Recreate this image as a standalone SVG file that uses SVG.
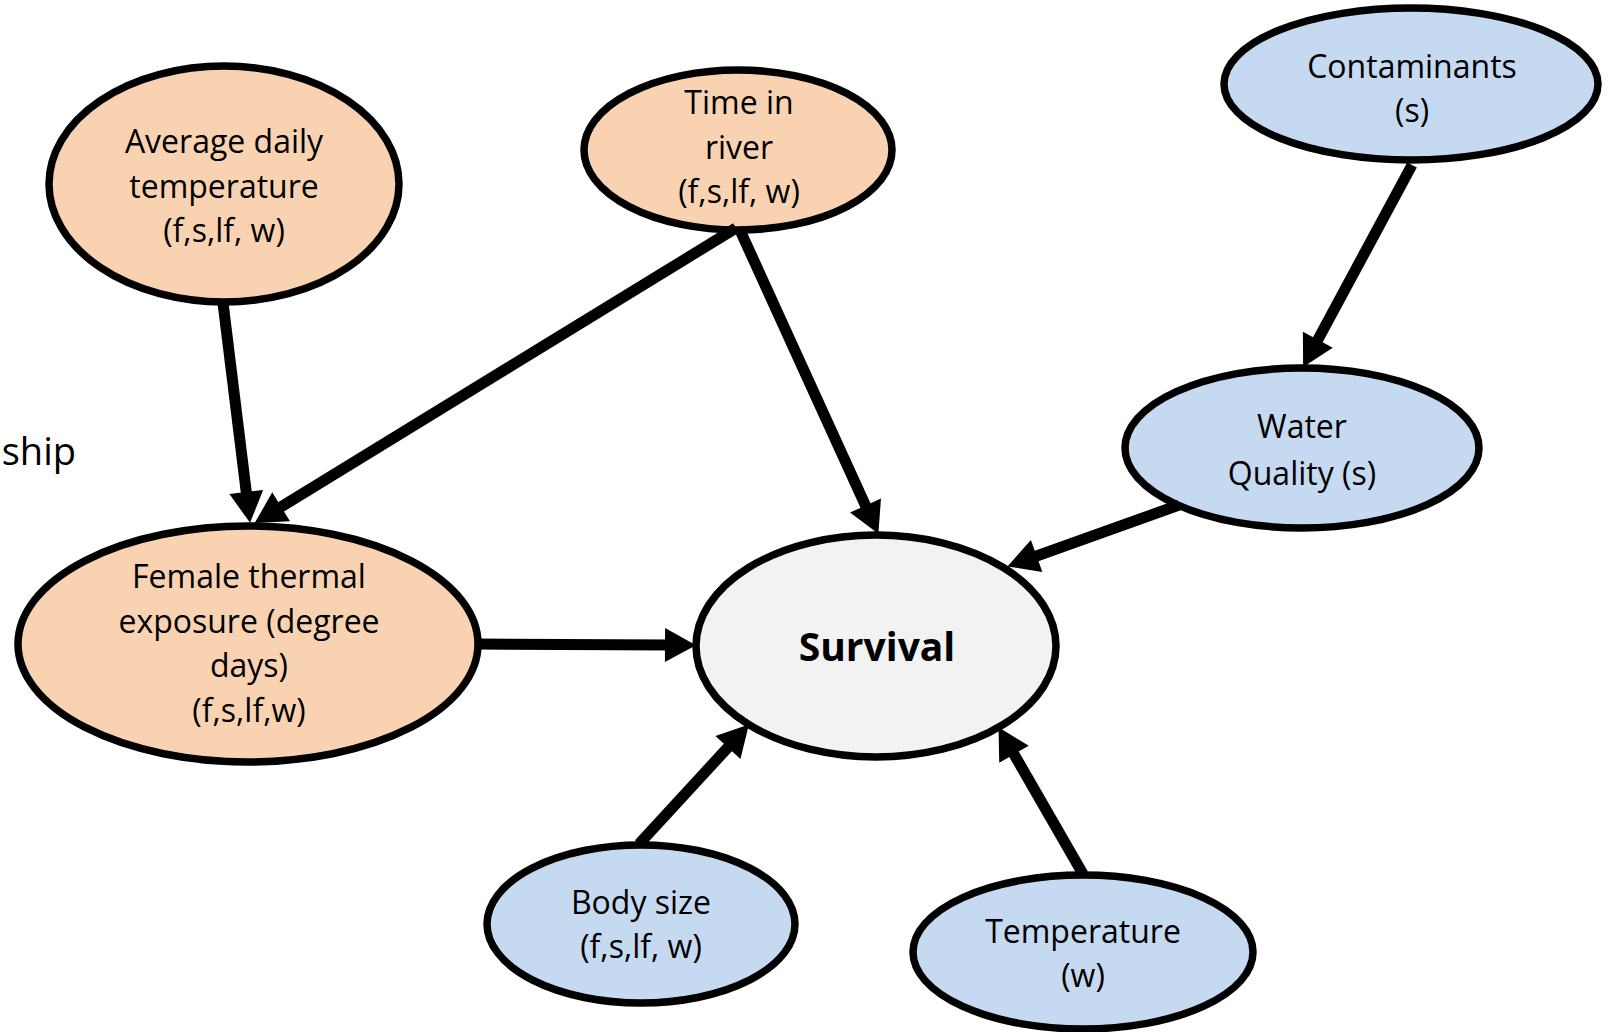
<svg xmlns="http://www.w3.org/2000/svg" width="1610" height="1032" viewBox="0 0 1610 1032">
  <style>
    .node ellipse { stroke: #000; stroke-width: 7.5; }
    .warm ellipse { fill: #F9D3B1; }
    .cool ellipse { fill: #C5D9F1; }
    .core ellipse { fill: #F2F2F2; }
    text { font-family: "Open Sans", Lato, sans-serif; font-size: 32px; fill: #000; text-anchor: middle; }
    .title { font-size: 39px; font-weight: bold; }
    .edge { stroke: #000; stroke-width: 11; fill: none; marker-end: url(#head); }
  </style>
  <defs>
    <marker id="head" markerUnits="userSpaceOnUse" markerWidth="40" markerHeight="40" viewBox="0 -20 34 40" refX="6" refY="0" orient="auto">
      <path d="M0,-17 L31,0 L0,17 Z" fill="#000"/>
    </marker>
  </defs>
  <rect width="1610" height="1032" fill="#fff"/>

  <text x="76" y="465" style="text-anchor:end;font-size:38px">ship</text>

  <g id="avg-daily-temp" class="node warm">
    <ellipse cx="224" cy="184" rx="175" ry="118"/>
    <text x="224" y="153">Average daily</text>
    <text x="224" y="198">temperature</text>
    <text x="224" y="242">(f,s,lf, w)</text>
  </g>

  <g id="time-in-river" class="node warm">
    <ellipse cx="738" cy="150" rx="154" ry="80"/>
    <text x="739" y="114">Time in</text>
    <text x="739" y="159">river</text>
    <text x="739" y="203">(f,s,lf, w)</text>
  </g>

  <g id="contaminants" class="node cool">
    <ellipse cx="1411" cy="84" rx="187" ry="76"/>
    <text x="1412" y="78">Contaminants</text>
    <text x="1412" y="122">(s)</text>
  </g>

  <g id="water-quality" class="node cool">
    <ellipse cx="1302" cy="448" rx="177" ry="80"/>
    <text x="1302" y="438">Water</text>
    <text x="1302" y="485">Quality (s)</text>
  </g>

  <g id="female-thermal" class="node warm">
    <ellipse cx="248" cy="644" rx="230" ry="118"/>
    <text x="249" y="588">Female thermal</text>
    <text x="249" y="633">exposure (degree</text>
    <text x="249" y="677">days)</text>
    <text x="249" y="722">(f,s,lf,w)</text>
  </g>

  <g id="survival" class="node core">
    <ellipse cx="876" cy="646" rx="180" ry="111"/>
    <text class="title" x="877" y="661">Survival</text>
  </g>

  <g id="body-size" class="node cool">
    <ellipse cx="641" cy="924" rx="154" ry="79"/>
    <text x="641" y="914">Body size</text>
    <text x="641" y="958">(f,s,lf, w)</text>
  </g>

  <g id="temperature" class="node cool">
    <ellipse cx="1083" cy="952" rx="170" ry="77"/>
    <text x="1083" y="943">Temperature</text>
    <text x="1083" y="987">(w)</text>
  </g>

  <g id="connectors">
    <path class="edge" d="M223,303 L247,498"/>
    <path class="edge" d="M736,228 L276,510"/>
    <path class="edge" d="M739,228 L868,511"/>
    <path class="edge" d="M1412,165 L1315,345"/>
    <path class="edge" d="M1179,505 L1031,558"/>
    <path class="edge" d="M477,644 L671,645"/>
    <path class="edge" d="M639,844 L732,743"/>
    <path class="edge" d="M1083,874 L1011,749"/>
  </g>
</svg>
